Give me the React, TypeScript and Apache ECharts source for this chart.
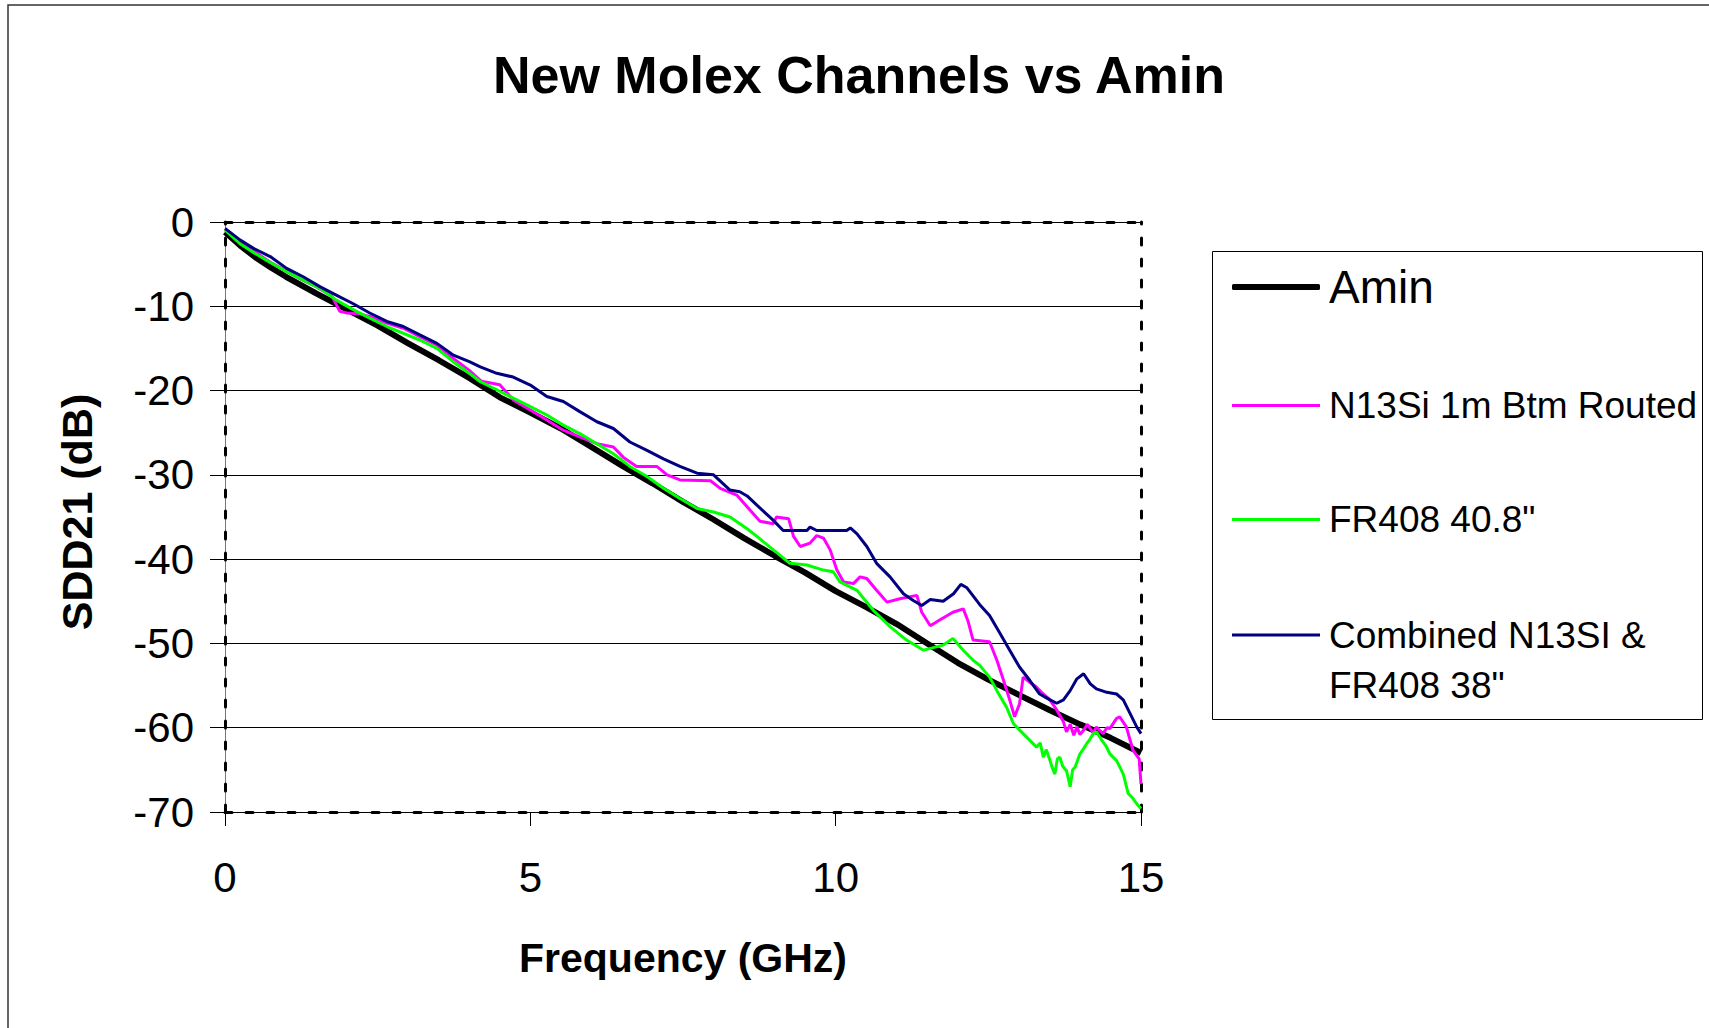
import React, { useEffect, useRef } from "react";
import * as echarts from "echarts";

// ---- Data ----
const freqAmin = [0, 0.25, 0.5, 0.75, 1, 1.5, 2, 2.5, 3, 3.5, 4, 4.5, 5, 5.5, 6, 6.5, 7, 7.5, 8, 8.5, 9, 9.5, 10, 10.5, 11, 11.5, 12, 12.5, 13, 13.5, 14, 14.5, 15];
const amin = [-1.2, -2.8, -4.2, -5.4, -6.5, -8.5, -10.4, -12.3, -14.4, -16.4, -18.5, -20.8, -22.6, -24.5, -26.7, -28.9, -31.0, -33.2, -35.3, -37.5, -39.6, -41.6, -43.8, -45.7, -47.7, -50.0, -52.3, -54.3, -56.1, -57.9, -59.6, -61.2, -63.0];

const freqN13 = [0, 0.25, 0.5, 0.75, 1.0, 1.25, 1.5, 1.75, 1.88, 2.0, 2.2, 2.37, 2.65, 2.92, 3.19, 3.47, 3.74, 4.0, 4.2, 4.5, 4.72, 5.0, 5.27, 5.54, 5.81, 6.09, 6.36, 6.52, 6.74, 7.07, 7.24, 7.45, 7.95, 8.11, 8.38, 8.6, 8.76, 8.98, 9.03, 9.23, 9.31, 9.42, 9.58, 9.69, 9.8, 9.91, 10.02, 10.13, 10.29, 10.4, 10.51, 10.67, 10.84, 11.05, 11.33, 11.41, 11.55, 11.71, 11.92, 12.09, 12.17, 12.25, 12.52, 12.64, 12.75, 12.85, 12.93, 13.01, 13.07, 13.18, 13.29, 13.4, 13.51, 13.62, 13.73, 13.78, 13.84, 13.9, 13.95, 14.0, 14.06, 14.12, 14.17, 14.22, 14.27, 14.33, 14.38, 14.44, 14.49, 14.6, 14.65, 14.76, 14.87, 14.97, 15.0];
const n13 = [-0.9, -2.5, -3.6, -4.8, -5.8, -6.8, -7.7, -8.8, -10.6, -10.8, -10.9, -11.2, -12.0, -12.6, -13.6, -14.6, -16.2, -17.6, -18.9, -19.3, -21.1, -22.3, -23.5, -24.7, -25.5, -26.3, -26.7, -27.9, -29.0, -29.0, -30.0, -30.6, -30.7, -31.6, -32.4, -34.2, -35.5, -35.8, -35.0, -35.2, -37.3, -38.5, -38.1, -37.2, -37.5, -38.9, -41.3, -42.7, -42.9, -42.1, -42.3, -43.7, -45.1, -44.7, -44.3, -46.3, -47.9, -47.2, -46.3, -45.9, -47.4, -49.6, -49.8, -52.0, -54.4, -56.7, -58.7, -57.2, -54.0, -54.6, -55.2, -56.0, -56.7, -57.9, -59.3, -60.5, -59.6, -60.9, -59.9, -60.8, -60.3, -59.6, -60.1, -60.6, -59.9, -60.4, -60.7, -60.0, -60.1, -58.9, -58.7, -59.9, -62.7, -63.7, -66.7];

const freqFR = [0, 0.25, 0.46, 0.74, 1.01, 1.28, 1.56, 1.83, 2.1, 2.37, 2.65, 2.92, 3.19, 3.47, 3.74, 4.01, 4.18, 4.45, 4.72, 5.0, 5.27, 5.54, 5.81, 6.09, 6.36, 6.63, 6.91, 7.18, 7.45, 7.73, 8.0, 8.27, 8.55, 8.71, 8.98, 9.25, 9.53, 9.8, 9.96, 10.07, 10.35, 10.62, 10.89, 11.16, 11.44, 11.6, 11.76, 11.92, 12.09, 12.25, 12.36, 12.52, 12.64, 12.8, 12.91, 13.07, 13.18, 13.29, 13.35, 13.4, 13.45, 13.51, 13.55, 13.59, 13.63, 13.67, 13.72, 13.78, 13.84, 13.88, 13.92, 14.0, 14.05, 14.11, 14.16, 14.22, 14.27, 14.36, 14.43, 14.49, 14.6, 14.71, 14.79, 14.87, 14.95, 15.0];
const fr408 = [-0.95, -2.6, -3.6, -4.8, -5.9, -6.9, -7.9, -9.3, -10.4, -11.4, -12.4, -13.2, -14.0, -15.0, -16.6, -18.0, -18.95, -19.9, -20.9, -21.9, -22.9, -24.1, -25.1, -26.3, -27.5, -29.0, -30.2, -31.6, -32.8, -34.0, -34.4, -35.0, -36.4, -37.3, -38.9, -40.5, -40.7, -41.3, -41.5, -42.7, -43.7, -46.1, -48.0, -49.6, -50.8, -50.5, -50.2, -49.4, -50.8, -52.0, -52.6, -54.0, -55.6, -57.6, -59.5, -60.7, -61.5, -62.3, -61.8, -63.5, -62.6, -63.9, -64.8, -65.5, -63.7, -63.5, -64.6, -65.1, -67.0, -65.0, -64.7, -63.1, -62.6, -61.9, -61.4, -60.7, -60.5, -61.5, -62.2, -63.1, -63.9, -65.5, -67.8, -68.4, -69.2, -69.6];

const freqComb = [0, 0.25, 0.46, 0.74, 1.01, 1.28, 1.56, 1.83, 2.1, 2.37, 2.65, 2.92, 3.19, 3.47, 3.74, 4.01, 4.18, 4.45, 4.72, 5.0, 5.27, 5.54, 5.81, 6.09, 6.36, 6.63, 6.91, 7.18, 7.45, 7.73, 8.0, 8.27, 8.43, 8.55, 8.71, 8.98, 9.14, 9.53, 9.58, 9.69, 10.18, 10.24, 10.35, 10.51, 10.67, 10.89, 11.11, 11.27, 11.41, 11.55, 11.76, 11.93, 12.05, 12.15, 12.36, 12.52, 12.69, 12.85, 13.01, 13.18, 13.34, 13.51, 13.62, 13.73, 13.84, 13.95, 14.06, 14.17, 14.27, 14.44, 14.6, 14.71, 14.82, 14.93, 15.0];
const comb = [-0.75, -2.15, -3.1, -4.1, -5.5, -6.5, -7.7, -8.7, -9.7, -10.8, -11.8, -12.4, -13.4, -14.4, -15.8, -16.6, -17.2, -17.95, -18.4, -19.35, -20.7, -21.3, -22.5, -23.7, -24.5, -26.1, -27.1, -28.1, -29.0, -29.8, -30.0, -31.8, -32.0, -32.5, -33.6, -35.4, -36.6, -36.6, -36.2, -36.6, -36.6, -36.3, -37.0, -38.5, -40.5, -42.1, -44.1, -44.9, -45.5, -44.8, -45.0, -44.1, -43.0, -43.4, -45.4, -46.7, -48.8, -50.8, -52.8, -54.4, -56.0, -56.7, -57.1, -56.7, -55.6, -54.2, -53.6, -54.8, -55.4, -55.8, -56.0, -56.7, -58.3, -59.9, -60.7];

const seriesNames = ["Amin", "N13Si 1m Btm Routed", 'FR408 40.8"', 'Combined N13SI & FR408 38"'];
const seriesColors = ["#000000", "#FF00FF", "#00FF00", "#000080"];

const FONT = '"Liberation Sans", Arial, Helvetica, sans-serif';

const pairs = (xs: number[], ys: number[]) => xs.map((x, i) => [x, ys[i]]);

// legend icon for the two-line item: a 3px bar aligned with the first text line
const twoLineIcon = "path://M0 0L0.01 0M0 23.5H88V26.5H0ZM0 100L0.01 100";

export default function App() {
  const ref = useRef<HTMLDivElement>(null);
  useEffect(() => {
    const chart = echarts.init(ref.current!, null, { renderer: "svg" });
    const dashed = { type: [7, 14], width: 3, color: "#000" };
    const hidden = {
      axisTick: { show: false },
      axisLabel: { show: false },
      splitLine: { show: false },
    };
    const legendText = (size: number, lh: number) => ({
      fontFamily: FONT,
      fontSize: size,
      lineHeight: lh,
      color: "#000",
      padding: [0, 0, 0, 4],
    });
    chart.setOption({
      animation: false,
      backgroundColor: "#ffffff",
      title: {
        text: "New Molex Channels vs Amin",
        left: 493,
        top: 49,
        padding: 0,
        textStyle: { fontFamily: FONT, fontWeight: "bold", fontSize: 52, lineHeight: 52, color: "#000" },
      },
      grid: { left: 225, top: 222, width: 916, height: 590, containLabel: false },
      xAxis: [
        {
          type: "value",
          min: 0,
          max: 15,
          interval: 5,
          position: "bottom",
          axisLine: { onZero: false, lineStyle: { color: "#000", width: 1 } },
          axisTick: { inside: false, length: 14, lineStyle: { color: "#000", width: 1 } },
          axisLabel: { margin: 44, fontSize: 42, color: "#000", fontFamily: FONT },
          splitLine: { show: false },
          name: "Frequency (GHz)",
          nameLocation: "middle",
          nameGap: 125,
          nameTextStyle: { fontFamily: FONT, fontWeight: "bold", fontSize: 41, color: "#000" },
        },
        { type: "value", min: 0, max: 15, position: "bottom", axisLine: { onZero: false, lineStyle: dashed }, ...hidden },
        { type: "value", min: 0, max: 15, position: "top", axisLine: { onZero: false, lineStyle: dashed }, ...hidden },
      ],
      yAxis: [
        {
          type: "value",
          min: -70,
          max: 0,
          interval: 10,
          position: "left",
          axisLine: { onZero: false, lineStyle: { color: "#777", width: 1 } },
          axisTick: { inside: false, length: 15, lineStyle: { color: "#000", width: 1 } },
          axisLabel: { margin: 31, fontSize: 42, color: "#000", fontFamily: FONT },
          splitLine: { show: true, lineStyle: { color: "#000", width: 1 } },
          name: "SDD21 (dB)",
          nameLocation: "middle",
          nameGap: 127,
          nameTextStyle: { fontFamily: FONT, fontWeight: "bold", fontSize: 43, color: "#000", padding: [0, 0, 0, 10] },
        },
        { type: "value", min: -70, max: 0, position: "left", axisLine: { onZero: false, lineStyle: dashed }, ...hidden },
        { type: "value", min: -70, max: 0, position: "right", axisLine: { onZero: false, lineStyle: dashed }, ...hidden },
      ],
      legend: [
        {
          left: 1232, top: 264, orient: "vertical", padding: 0, itemWidth: 88, itemHeight: 6,
          icon: "roundRect", data: [seriesNames[0]], textStyle: legendText(46, 46),
        },
        {
          left: 1232, top: 387, orient: "vertical", padding: 0, itemWidth: 88, itemHeight: 3,
          icon: "rect", data: [seriesNames[1]], textStyle: legendText(37, 37),
        },
        {
          left: 1232, top: 501, orient: "vertical", padding: 0, itemWidth: 88, itemHeight: 3,
          icon: "rect", data: [seriesNames[2]], textStyle: legendText(37, 37),
        },
        {
          left: 1232, top: 610, orient: "vertical", padding: 0, itemWidth: 88, itemHeight: 100,
          icon: twoLineIcon, itemStyle: { borderWidth: 0 },
          data: [seriesNames[3]],
          formatter: () => 'Combined N13SI &\nFR408 38"',
          textStyle: legendText(37, 50),
        },
      ],
      graphic: [
        {
          type: "rect",
          silent: true,
          z: -10,
          shape: { x: 8, y: 5, width: 2400, height: 2400 },
          style: { fill: "none", stroke: "#333", lineWidth: 1.5 },
        },
        {
          type: "rect",
          silent: true,
          shape: { x: 1212.5, y: 251.5, width: 490, height: 468 },
          style: { fill: "none", stroke: "#000", lineWidth: 1 },
        },
      ],
      series: [
        { data: pairs(freqAmin, amin), width: 6 },
        { data: pairs(freqN13, n13), width: 3 },
        { data: pairs(freqFR, fr408), width: 3 },
        { data: pairs(freqComb, comb), width: 3 },
      ].map((s, i) => ({
        type: "line",
        name: seriesNames[i],
        xAxisIndex: 0,
        yAxisIndex: 0,
        symbol: "none",
        showSymbol: false,
        color: seriesColors[i],
        itemStyle: { color: seriesColors[i] },
        lineStyle: { color: seriesColors[i], width: s.width },
        data: s.data,
      })),
    });
    return () => chart.dispose();
  }, []);
  return (
    <div
      ref={ref}
      style={{ position: "absolute", left: 0, top: 0, width: 1709, height: 1028, background: "#fff" }}
    />
  );
}
